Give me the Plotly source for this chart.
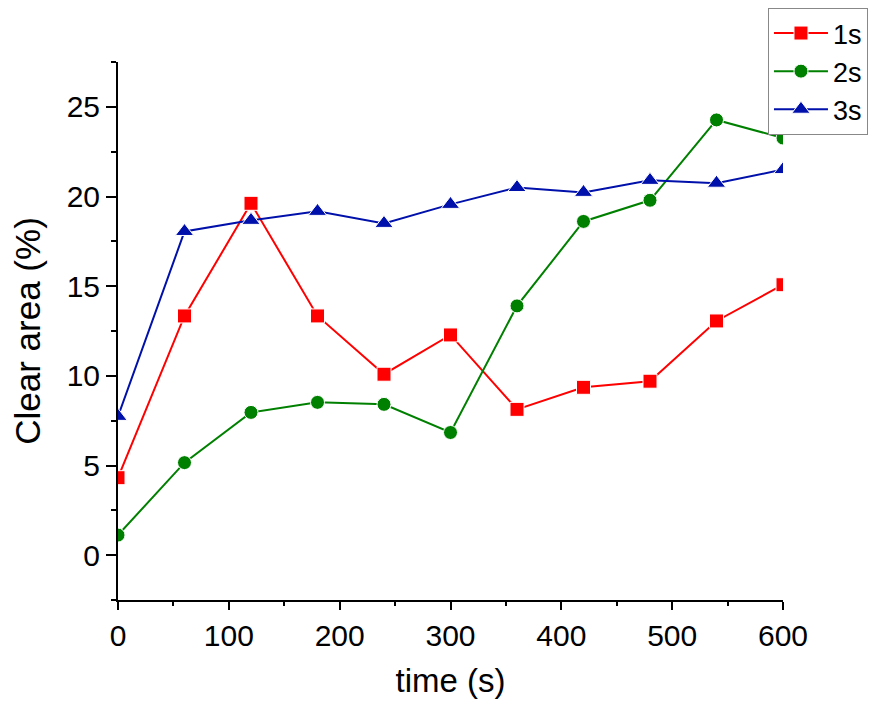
import plotly.graph_objects as go

time_s = [0, 60, 120, 180, 240, 300, 360, 420, 480, 540, 600]
series_names = ["1s", "2s", "3s"]
clear_1s = [4.32, 13.34, 19.62, 13.34, 10.09, 12.28, 8.13, 9.36, 9.70, 13.06, 15.08]
clear_2s = [1.12, 5.16, 7.96, 8.52, 8.41, 6.84, 13.90, 18.61, 19.79, 24.27, 23.26]
clear_3s = [7.74, 18.05, 18.67, 19.17, 18.50, 19.56, 20.50, 20.23, 20.90, 20.74, 21.50]

colors = ["#FF0000", "#008000", "#0010AA"]
symbols = ["square", "circle", "triangle-up"]
sizes = [14, 14, 16]
values = [clear_1s, clear_2s, clear_3s]

fig = go.Figure()
for name, vals, c, s, sz in zip(series_names, values, colors, symbols, sizes):
    fig.add_trace(go.Scatter(
        x=time_s, y=vals, name=name, mode="lines+markers",
        line=dict(color=c, width=2),
        marker=dict(symbol=s, size=sz, color=c, line=dict(color="white", width=1)),
        cliponaxis=True,
    ))

font_fam = "Arial, Liberation Sans"
axis_common = dict(
    showline=True, linecolor="black", linewidth=2, mirror=False,
    showgrid=False, zeroline=False,
    ticks="outside", tickwidth=2, tickcolor="black",
    tickfont=dict(family=font_fam, size=30, color="black"),
)

fig.update_xaxes(
    range=[0, 600], tick0=0, dtick=100, ticklen=8,
    minor=dict(ticks="outside", ticklen=4, tickwidth=2, tickcolor="black", dtick=50, tick0=0),
    title=dict(text="time (s)", font=dict(family=font_fam, size=33, color="black"), standoff=18),
    **axis_common,
)
fig.update_yaxes(
    range=[-2.5, 27.5], tick0=0, dtick=5, ticklen=10,
    minor=dict(ticks="outside", ticklen=5, tickwidth=2, tickcolor="black", dtick=2.5, tick0=0),
    title=dict(text="Clear area (%)", font=dict(family=font_fam, size=35, color="black"), standoff=20),
    **axis_common,
)

# page body has an 8px default margin; figure sized so the plot area lands at
# x 118-783, y 62-600 in the 879x712 window
fig.update_layout(
    width=871, height=704,
    margin=dict(l=110, r=96, t=54, b=112, autoexpand=False),
    plot_bgcolor="white", paper_bgcolor="white",
    showlegend=True,
    legend=dict(
        x=0.9774, y=1.1004, xanchor="left", yanchor="top",
        bordercolor="#888888", borderwidth=1, bgcolor="white",
        font=dict(family=font_fam, size=27, color="black"),
        itemwidth=54, tracegroupgap=0,
    ),
)

fig.write_html("out.html")
